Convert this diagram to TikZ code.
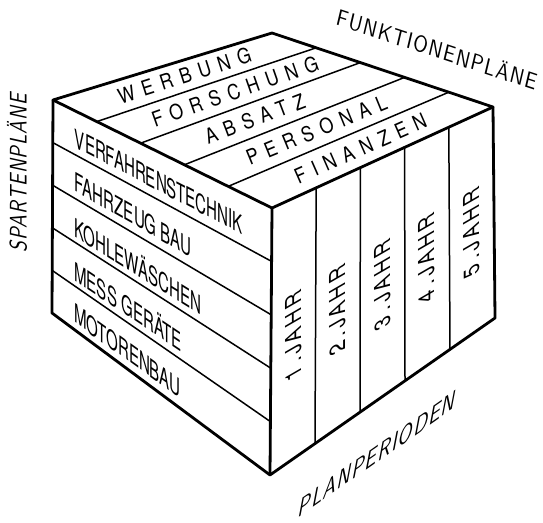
\documentclass[tikz,border=0pt]{standalone}
\usepackage{fontspec}
\usepackage{tikz}
\usetikzlibrary{calc}
\newfontfamily\cubefont[FakeStretch=0.58]{TeX Gyre Heros}
\newfontfamily\topfont[FakeStretch=0.85,LetterSpace=36]{TeX Gyre Heros}
\newfontfamily\yearfont[FakeStretch=0.9,LetterSpace=18]{TeX Gyre Heros}
\newfontfamily\handfont[FakeSlant=0.22,FakeStretch=0.8,LetterSpace=5]{lmsans10-regular.otf}

\begin{document}
\begin{tikzpicture}[x=1pt, y=1pt,
  edge/.style={line width=2.8pt, line join=round},
  divline/.style={line width=1.5pt},
  spartlabel/.style={inner sep=0pt, anchor=west, font=\cubefont\fontsize{26}{26}\selectfont},
  fktlabel/.style={inner sep=0pt, font=\topfont\fontsize{21}{21}\selectfont},
  yearlabel/.style={inner sep=0pt, font=\yearfont\fontsize{22}{22}\selectfont},
  axislabel/.style={inner sep=0pt, font=\handfont\fontsize{24}{24}\selectfont}]
\useasboundingbox (0,0) rectangle (543,522);
% corners of the cube
\coordinate (L) at (53,422);
\coordinate (B) at (272,489);
\coordinate (R) at (493,415);
\coordinate (F) at (272,314);
\coordinate (Lb) at (52,209);
\coordinate (Fb) at (270,47);
\coordinate (Rb) at (495,204);
% strips on the three faces
\foreach \t in {0.2,0.4,0.6,0.8} {
  \draw[divline] ($(L)!\t!(F)$) -- ($(B)!\t!(R)$);
  \draw[divline] ($(L)!\t!(Lb)$) -- ($(F)!\t!(Fb)$);
  \draw[divline] ($(F)!\t!(R)$) -- ($(Fb)!\t!(Rb)$);
}
\draw[edge] (L) -- (B) -- (R) -- (F) -- cycle;
\draw[edge] (L) -- (Lb) -- (Fb) -- (Rb) -- (R);
\draw[edge] (F) -- (Fb);
% top face: Funktionen
\foreach \u/\v/\a/\txt [count=\i] in {0.1/0.5/17.8/WERBUNG, 0.3/0.53/19.3/FORSCHUNG,
    0.5/0.42/20.8/ABSATZ, 0.7/0.5/22.3/PERSONAL, 0.9/0.5/23.8/FINANZEN}
  \node[fktlabel, rotate=\a] (fkt\i) at ($($(L)!\u!(F)$)!\v!($(B)!\u!(R)$)$) {\txt};
% left face: Sparten
\foreach \t/\s/\txt [count=\i] in {0.1/-0.52/VERFAHRENSTECHNIK, 0.3/-0.57/FAHRZEUG\,BAU,
    0.5/-0.62/KOHLEWÄSCHEN, 0.7/-0.67/MESS\,GERÄTE, 0.9/-0.72/MOTORENBAU}
  \node[spartlabel, yslant=\s] (spt\i) at ($($(L)!\t!(Lb)$)!0.1!($(F)!\t!(Fb)$)+(0,-5)$) {\txt};
% right face: Planperioden
\foreach \s/\txt [count=\i] in {0.1/1.JAHR, 0.3/2.JAHR, 0.5/3.JAHR, 0.7/4.JAHR, 0.9/5.JAHR}
  \node[yearlabel, yslant=0.58, rotate=90] (jahr\i) at ($($(F)!\s!(R)$)!0.5!($(Fb)!\s!(Rb)$)+(0,-8)$) {\txt};
% axis names
\node[axislabel, yslant=-0.33] (fktplan) at (435,474) {FUNKTIONENPLÄNE};
\node[axislabel, rotate=90] (sptplan) at (17,349) {SPARTENPLÄNE};
\node[axislabel, yslant=0.7] (perioden) at (376,67) {PLANPERIODEN};
\end{tikzpicture}
\end{document}
